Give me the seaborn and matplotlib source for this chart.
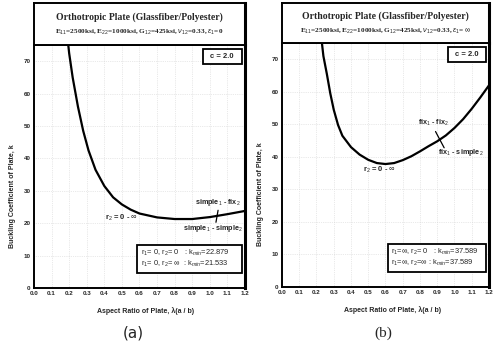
import matplotlib
matplotlib.use("Agg")
import matplotlib.pyplot as plt
import seaborn as sns
from matplotlib.ticker import MultipleLocator
from matplotlib.patches import Rectangle

# curve values
lam_a = [0.185, 0.20, 0.22, 0.25, 0.28, 0.31, 0.35, 0.40, 0.45, 0.50, 0.55, 0.60,
         0.70, 0.80, 0.90, 1.00, 1.10, 1.20]
k_a = [80.0, 72.5, 65.0, 56.0, 48.5, 42.5, 36.5, 31.5, 28.0, 25.8, 24.2, 23.0,
       21.8, 21.3, 21.3, 21.9, 22.8, 23.8]

lam_b = [0.225, 0.24, 0.26, 0.28, 0.30, 0.325, 0.35, 0.40, 0.45, 0.50, 0.55, 0.60,
         0.65, 0.70, 0.75, 0.80, 0.85, 0.90, 0.95, 1.00, 1.05, 1.10, 1.15, 1.20]
k_b = [78.0, 71.0, 65.5, 59.5, 54.5, 49.8, 46.5, 43.0, 40.7, 39.1, 38.1, 37.8,
       38.1, 39.0, 40.2, 41.7, 43.3, 44.8, 46.6, 48.9, 51.6, 54.8, 58.3, 62.0]

x_ticks = [0.0, 0.1, 0.2, 0.3, 0.4, 0.5, 0.6, 0.7, 0.8, 0.9, 1.0, 1.1, 1.2]
y_ticks = [0, 10, 20, 30, 40, 50, 60, 70]

title1 = "Orthotropic Plate (Glassfiber/Polyester)"
title2_a = r"E$_{11}$=2500ksi, E$_{22}$=1000ksi, G$_{12}$=425ksi, $\nu_{12}$=0.33, $\varepsilon_1$=0"
title2_b = r"E$_{11}$=2500ksi, E$_{22}$=1000ksi, G$_{12}$=425ksi, $\nu_{12}$=0.33, $\varepsilon_1$= $\infty$"

box_a = [r"r$_1$= 0, r$_2$= 0   : k$_{min}$=22.879", r"r$_1$= 0, r$_2$= $\infty$  : k$_{min}$=21.533"]
box_b = [r"r$_1$=$\infty$, r$_2$= 0   : k$_{min}$=37.589", r"r$_1$=$\infty$, r$_2$=$\infty$ : k$_{min}$=37.589"]

sns.set_style("white")
plt.rcParams["font.family"] = ["Liberation Sans", "DejaVu Sans"]
plt.rcParams["mathtext.fontset"] = "custom"
plt.rcParams["mathtext.rm"] = "Liberation Sans"
plt.rcParams["mathtext.it"] = "Liberation Sans:italic"

fig = plt.figure(figsize=(4.97, 3.52), dpi=100)

panels = [
    dict(ax=[0.0684, 0.1818, 0.4245, 0.690], tb=[0.0684, 0.872, 0.4245, 0.1195],
         lam=lam_a, k=k_a, t2=title2_a, box=box_a, cap="(a)", capx=0.268, capfont="DejaVu Sans",
         rlab=("r$_2$ = 0 - $\\infty$", 0.50, 21.7), boxx=0.49, xlab=0.53,
         cross=[(1.047, 24.0), (1.035, 20.3)],
         l1=("simple$_1$ - fix$_2$", 1.045, 26.3), l2=("simple$_1$ - simple$_2$", 1.02, 18.4)),
    dict(ax=[0.5674, 0.1847, 0.4165, 0.693], tb=[0.5674, 0.8778, 0.4165, 0.1137],
         lam=lam_b, k=k_b, t2=title2_b, box=box_b, cap="(b)", capx=0.771, capfont="Liberation Serif",
         rlab=("r$_2$ = 0 - $\\infty$", 0.565, 36.0), boxx=0.51, xlab=0.536,
         cross=[(0.89, 47.8), (0.94, 42.8)],
         l1=("fix$_1$ - fix$_2$", 0.88, 50.3), l2=("fix$_1$ - simple$_2$", 1.035, 41.3)),
]

for p in panels:
    ax = fig.add_axes(p["ax"])
    sns.lineplot(x=p["lam"], y=p["k"], ax=ax, color="black", lw=1.6, sort=False)
    ax.set_xlim(0, 1.2)
    ax.set_ylim(0, 75)
    ax.set_xticks(x_ticks)
    ax.set_xticklabels([f"{v:.1f}" for v in x_ticks])
    ax.set_yticks(y_ticks)
    ax.xaxis.set_minor_locator(MultipleLocator(0.025))
    ax.yaxis.set_minor_locator(MultipleLocator(2))
    ax.tick_params(which="both", direction="in", length=3, width=0.8, labelsize=4.5, pad=2.5)
    ax.tick_params(which="minor", length=1.8)
    for lbl in ax.get_xticklabels() + ax.get_yticklabels():
        lbl.set_fontweight("bold")
    ax.grid(True, color="#d4d4d4", ls=":", lw=0.5)
    for s in ax.spines.values():
        s.set_linewidth(1.4)
        s.set_color("black")
    ax.spines["right"].set_linewidth(2.2)
    ax.set_xlabel("Aspect Ratio of Plate, \u03bb(a / b)", fontsize=5, fontweight="bold")
    ax.set_ylabel("Buckling Coefficient of Plate, k", fontsize=5, fontweight="bold")
    ax.xaxis.set_label_coords(p["xlab"], -0.078)
    ax.yaxis.set_label_coords(-0.085, 0.38)

    # "c = 2.0" box
    ax.add_patch(Rectangle((0.80, 0.922), 0.185, 0.062, transform=ax.transAxes,
                           fc="white", ec="black", lw=1.3, zorder=5))
    ax.text(0.8925, 0.953, "c = 2.0", transform=ax.transAxes, ha="center", va="center",
            fontsize=5.5, fontweight="bold", zorder=6)

    # k_min box
    bx = p["boxx"]
    ax.add_patch(Rectangle((bx, 0.063), 0.985 - bx, 0.115, transform=ax.transAxes,
                           fc="white", ec="black", lw=1.3, zorder=5))
    ax.text(bx + 0.015, 0.143, p["box"][0], transform=ax.transAxes, ha="left", va="center",
            fontsize=5.4, zorder=6)
    ax.text(bx + 0.015, 0.100, p["box"][1], transform=ax.transAxes, ha="left", va="center",
            fontsize=5.4, zorder=6)

    t, tx, ty = p["rlab"]
    ax.text(tx, ty, t, fontsize=5.5, fontweight="bold", ha="center", va="center")
    (x1, y1), (x2, y2) = p["cross"]
    ax.plot([x1, x2], [y1, y2], color="black", lw=0.9)
    t, tx, ty = p["l1"]
    ax.text(tx, ty, t, fontsize=5.2, fontweight="bold", ha="center", va="center")
    t, tx, ty = p["l2"]
    ax.text(tx, ty, t, fontsize=5.2, fontweight="bold", ha="center", va="center")

    tb = fig.add_axes(p["tb"])
    tb.set_xticks([])
    tb.set_yticks([])
    for s in tb.spines.values():
        s.set_linewidth(1.4)
        s.set_color("black")
    tb.spines["right"].set_linewidth(2.2)
    tb.text(0.5, 0.66, title1, ha="center", va="center", fontsize=7, fontweight="bold",
            family="Liberation Serif", transform=tb.transAxes)
    tb.text(0.5, 0.3, p["t2"], ha="center", va="center", fontsize=5.2, fontweight="bold",
            family="Liberation Serif", transform=tb.transAxes)

    fig.text(p["capx"], 0.054, p["cap"], ha="center", va="center", fontsize=11, family=p["capfont"])

fig.savefig("out.png", dpi=100)
